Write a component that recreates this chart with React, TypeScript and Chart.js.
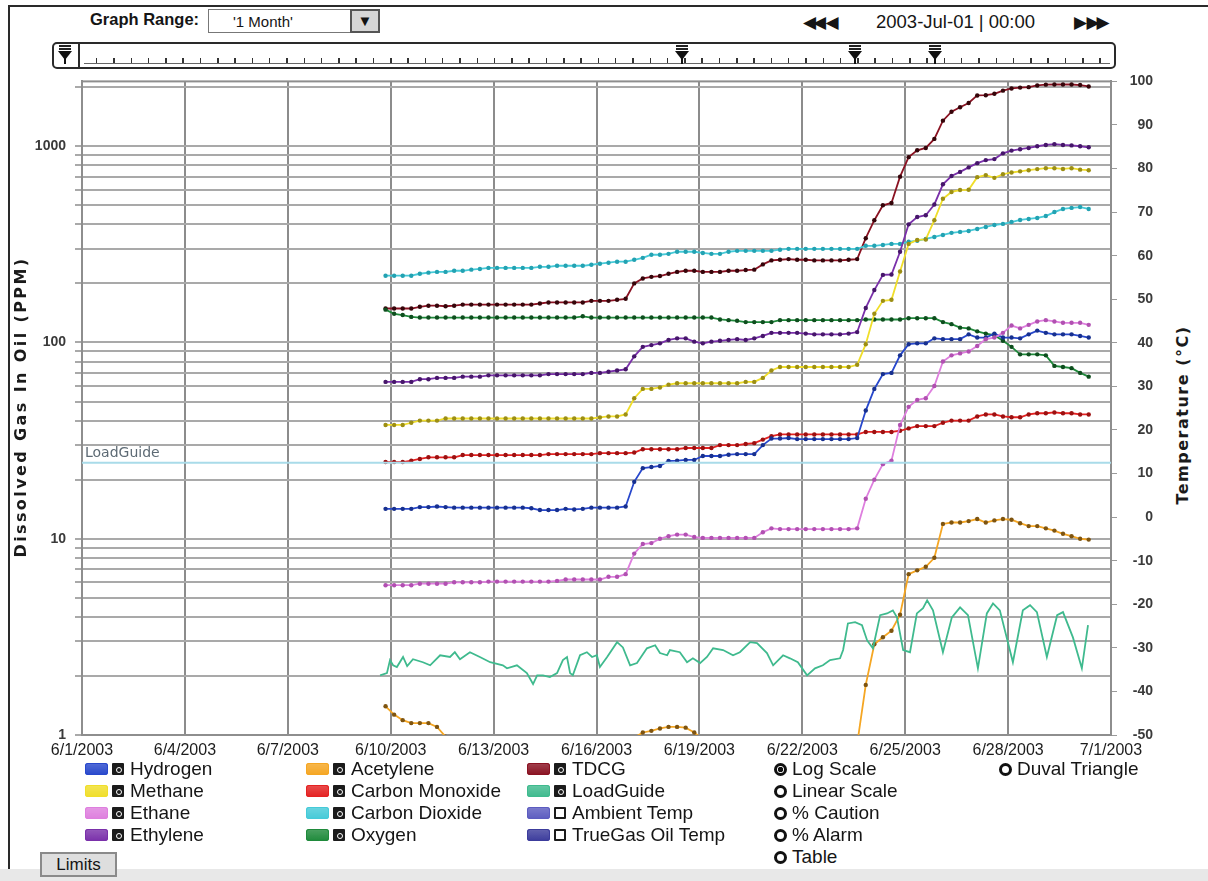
import React, { useEffect, useRef } from "react";
import { Chart, registerables } from "chart.js";

Chart.register(...registerables);

// ---- sampling of the monitor readings (days after 6/1/2003 00:00) ----
const SAMPLE_START_DAY = 8.85;
const SAMPLE_STEP_DAY = 0.25;

// ---- x axis ----
const xTickDays = [0, 3, 6, 9, 12, 15, 18, 21, 24, 27, 30];
const xTickLabels = ["6/1/2003", "6/4/2003", "6/7/2003", "6/10/2003", "6/13/2003", "6/16/2003", "6/19/2003", "6/22/2003", "6/25/2003", "6/28/2003", "7/1/2003"];

// ---- left (log) axis ----
const ppmMin = 1;
const ppmMax = 2140;
const ppmGridValues = [1, 2, 3, 4, 5, 6, 7, 8, 9, 10, 20, 30, 40, 50, 60, 70, 80, 90, 100, 200, 300, 400, 500, 600, 700, 800, 900, 1000, 2000];
const ppmLabelValues = [1, 10, 100, 1000];

// ---- right (temperature) axis ----
const tempMin = -50;
const tempMax = 100;
const tempStep = 10;
const loadGuideLimitTemp = 12.5;

// ---- gas series (ppm) ----
const hydrogen = [
  14.2, 14.2, 14.2, 14.2, 14.5, 14.5, 14.6, 14.5, 14.4, 14.4,
  14.4, 14.4, 14.4, 14.4, 14.4, 14.4, 14.4, 14.3, 14.0, 14.0,
  14.0, 14.2, 14.1, 14.2, 14.4, 14.4, 14.4, 14.4, 14.6, 19.5,
  22.9, 23.2, 23.5, 24.9, 25.0, 25.2, 25.2, 26.4, 26.4, 26.4,
  26.8, 27.0, 27.0, 27.0, 30.0, 32.4, 32.4, 32.6, 32.2, 32.2,
  32.2, 32.2, 32.2, 32.2, 32.2, 32.6, 45, 58, 69, 70,
  86, 98, 99, 99, 105, 104, 104, 104, 110, 106,
  106, 111, 106, 106, 105, 110, 115, 112, 110, 110,
  110, 108, 106,
];
const methane = [
  38, 38, 38, 39, 40, 40, 40, 41, 41, 41,
  41, 41, 41, 41, 41, 41, 41, 41, 41, 41,
  41, 41, 41, 41, 41, 41.5, 42, 42, 43, 52,
  58, 58, 59, 61, 62, 62, 62, 62, 62, 62,
  62, 62, 63, 63, 66, 72, 75, 75, 75, 75,
  75, 75, 75, 75, 75, 77, 98, 140, 163, 165,
  230, 318, 333, 335, 420, 540, 585, 598, 600, 696,
  713, 690, 720, 735, 745, 755, 765, 773, 773, 766,
  773, 760, 755,
];
const ethane = [
  5.8, 5.8, 5.8, 5.8, 5.9, 5.9, 5.9, 5.9, 6.0, 6.0,
  6.0, 6.0, 6.05, 6.05, 6.05, 6.05, 6.05, 6.05, 6.05, 6.05,
  6.1, 6.2, 6.2, 6.2, 6.2, 6.2, 6.4, 6.4, 6.6, 8.4,
  9.4, 9.5, 10.0, 10.3, 10.5, 10.5, 10.2, 10.1, 10.1, 10.1,
  10.1, 10.1, 10.1, 10.1, 10.8, 11.3, 11.2, 11.2, 11.2, 11.2,
  11.2, 11.2, 11.2, 11.2, 11.2, 11.3, 16, 20, 24, 25,
  38, 47, 51, 52, 60, 80, 86, 88, 90, 96,
  104, 106, 112, 122, 118, 123, 128, 130, 128, 126,
  126, 126, 123,
];
const ethylene = [
  63, 63, 63, 63, 65, 65, 66, 66, 66, 67,
  67, 67, 68, 68, 68, 68, 68, 68, 68, 69,
  69, 69, 69, 69, 70, 70, 71, 72, 73, 85,
  95, 97, 99, 103, 105, 105, 101, 99, 101, 102,
  103, 104, 103, 105, 108, 112, 112, 112, 112, 111,
  110, 110, 110, 110, 111, 113, 150, 185, 221, 222,
  290, 400, 436, 445, 505, 640, 705, 740, 780, 820,
  850, 860, 920, 950, 966, 980, 1000, 1015, 1025, 1015,
  1010, 1000, 988,
];
const acetylene = [
  1.40, 1.27, 1.19, 1.15, 1.15, 1.15, 1.10, 0.98, 0.85, 0.8,
  0.8, 0.8, 0.8, 0.8, 0.8, 0.8, 0.8, 0.8, 0.8, 0.8,
  0.8, 0.8, 0.8, 0.8, 0.8, 0.8, 0.8, 0.8, 0.85, 0.97,
  1.03, 1.05, 1.08, 1.10, 1.10, 1.09, 1.03, 0.95, 0.85, 0.8,
  0.8, 0.8, 0.8, 0.8, 0.8, 0.8, 0.8, 0.8, 0.8, 0.8,
  0.8, 0.8, 0.8, 0.8, 0.8, 0.9, 1.8, 2.9, 3.15, 3.4,
  4.1, 6.6, 6.9, 7.2, 8.0, 11.9, 12.1, 12.1, 12.3, 12.6,
  12.1, 12.4, 12.6, 12.5, 12.0, 11.6, 11.6, 11.3, 11.0, 10.6,
  10.3, 10.0, 9.9,
];
const carbonMonoxide = [
  24.6, 24.6, 24.6, 25.0, 25.5, 26.0, 26.0, 26.0, 26.0, 26.7,
  26.7, 26.7, 26.7, 26.7, 26.7, 26.7, 26.7, 26.7, 26.7, 27.0,
  27.0, 27.0, 27.0, 27.0, 27.0, 27.3, 27.3, 27.3, 27.3, 27.5,
  28.6, 28.6, 28.6, 28.6, 28.6, 29.0, 29.0, 29.0, 29.0, 30.0,
  30.0, 30.0, 30.4, 30.7, 32.0, 33.3, 34.0, 34.0, 34.0, 34.0,
  34.0, 34.0, 34.0, 34.0, 34.0, 34.0, 35.0, 35.0, 35.0, 35.0,
  35.5, 36.5, 37.5, 37.5, 37.5, 39.0, 40.0, 40.0, 40.0, 42.0,
  43.0, 43.0, 42.0, 41.6, 41.6, 43.0, 43.6, 43.6, 44.0, 43.6,
  43.6, 43.0, 43.0,
];
const carbonDioxide = [
  219, 219, 219, 219, 224, 227, 229, 229, 232, 232,
  235, 237, 240, 240, 240, 240, 240, 240, 243, 243,
  246, 246, 246, 246, 249, 252, 255, 258, 258, 264,
  270, 280, 280, 283, 290, 290, 290, 286, 283, 283,
  290, 293, 293, 293, 293, 293, 297, 300, 300, 300,
  300, 300, 300, 300, 300, 300, 311, 311, 314, 318,
  318, 326, 330, 337, 345, 353, 362, 366, 370, 379,
  388, 397, 402, 411, 421, 426, 431, 441, 462, 479,
  485, 490, 479,
];
const oxygen = [
  147, 140, 138, 135, 134, 134, 134, 134, 134, 134,
  134, 134, 134, 134, 134, 134, 134, 134, 134, 134,
  134, 134, 134, 136, 134, 134, 134, 134, 134, 134,
  134, 134, 134, 134, 134, 134, 134, 134, 134, 131,
  130, 129, 127, 127, 127, 127, 130, 130, 130, 130,
  130, 130, 130, 130, 130, 130, 131, 131, 131, 131,
  131, 133, 133, 133, 133, 127, 124, 119, 118, 114,
  111, 109, 102, 95, 87, 87, 87, 86, 76, 75,
  74, 70, 67,
];
const tdcg = [
  149, 149, 149, 149, 152, 154, 154, 153, 154, 156,
  156, 156, 156, 156, 156, 156, 156, 156, 158, 160,
  160, 160, 160, 160, 163, 163, 163, 165, 167, 200,
  212, 216, 218, 224, 229, 232, 232, 229, 229, 229,
  232, 232, 234, 235, 250, 262, 264, 266, 264, 264,
  262, 262, 262, 262, 264, 266, 340, 420, 500, 514,
  700, 880, 954, 980, 1090, 1350, 1500, 1580, 1660, 1815,
  1820, 1850, 1920, 1970, 1990, 2000, 2040, 2060, 2064, 2064,
  2064, 2050, 2017,
];

// ---- LoadGuide (temperature, degC) ----
const loadGuideDays = [
  8.69, 8.89, 8.98, 9.07, 9.18, 9.36, 9.48, 9.65, 9.94, 10.15,
  10.44, 10.73, 10.87, 11.02, 11.31, 11.60, 11.90, 12.27, 12.39, 12.68,
  12.97, 13.15, 13.27, 13.44, 13.64, 13.85, 14.02, 14.14, 14.23, 14.31,
  14.52, 14.72, 14.87, 15.01, 15.10, 15.31, 15.60, 15.77, 15.98, 16.18,
  16.47, 16.71, 16.85, 17.06, 17.14, 17.43, 17.64, 17.81, 18.02, 18.22,
  18.40, 18.69, 18.98, 19.18, 19.48, 19.68, 19.97, 20.15, 20.44, 20.64,
  20.87, 21.14, 21.37, 21.60, 21.81, 22.10, 22.19, 22.33, 22.54, 22.74,
  22.89, 23.06, 23.27, 23.47, 23.64, 23.76, 23.94, 24.14, 24.34, 24.52,
  24.64, 24.81, 25.10, 25.36, 25.60, 25.83, 26.12, 26.38, 26.56, 26.76,
  27.14, 27.43, 27.64, 27.84, 28.13, 28.43, 28.60, 28.89, 29.15, 29.33,
];
const loadGuideTemps = [
  -36.3, -35.8, -32.8, -34.0, -34.4, -32.1, -34.2, -32.6, -33.3, -34.0,
  -31.7, -32.1, -31.0, -32.6, -31.0, -32.1, -33.3, -34.0, -34.7, -34.0,
  -35.8, -38.3, -36.3, -36.3, -36.7, -35.8, -32.8, -32.1, -35.8, -36.3,
  -31.7, -31.0, -32.1, -31.7, -34.4, -32.1, -28.7, -29.9, -34.0, -33.5,
  -30.1, -29.4, -31.2, -31.7, -30.5, -31.0, -33.3, -32.4, -33.5, -32.1,
  -30.1, -30.5, -31.7, -31.0, -28.7, -28.9, -31.2, -34.0, -31.7, -32.4,
  -33.3, -36.3, -34.7, -34.0, -32.8, -32.4, -30.5, -24.4, -24.1, -24.8,
  -28.3, -30.1, -22.5, -22.1, -21.4, -23.0, -30.5, -31.0, -22.1, -20.9,
  -19.1, -21.4, -31.0, -23.0, -20.7, -22.5, -34.7, -22.1, -19.8, -21.4,
  -33.3, -21.4, -20.2, -21.8, -32.1, -22.5, -21.8, -27.6, -34.7, -24.8,
];

// ---- legend / controls text ----
const legendCol1 = ["Hydrogen", "Methane", "Ethane", "Ethylene"];
const legendCol2 = ["Acetylene", "Carbon Monoxide", "Carbon Dioxide", "Oxygen"];
const legendCol3 = ["TDCG", "LoadGuide", "Ambient Temp", "TrueGas Oil Temp"];
const uncheckedSeries = ["Ambient Temp", "TrueGas Oil Temp"];
const scaleOptions = ["Log Scale", "Linear Scale", "% Caution", "% Alarm", "Table"];
const selectedScaleOption = "Log Scale";
const extraOption = "Duval Triangle";
const graphRangeLabel = "Graph Range:";
const graphRangeValue = "'1 Month'";
const currentDateText = "2003-Jul-01 | 00:00";
const leftAxisTitle = "Dissolved Gas In Oil (PPM)";
const rightAxisTitle = "Temperature (\u00B0C)";
const limitsLabel = "Limits";

const SERIES_COLORS: Record<string, { line: string; point: string }> = {
  Hydrogen: { line: "#2848cc", point: "#17308f" },
  Methane: { line: "#f0de2a", point: "#9c8e14" },
  Ethane: { line: "#de7fde", point: "#b150b1" },
  Ethylene: { line: "#7a30aa", point: "#46166a" },
  Acetylene: { line: "#f5a623", point: "#7e5410" },
  "Carbon Monoxide": { line: "#e42222", point: "#9c1010" },
  "Carbon Dioxide": { line: "#45cad8", point: "#23a2b2" },
  Oxygen: { line: "#1f8a3b", point: "#0e4e1e" },
  TDCG: { line: "#8a1222", point: "#35050a" },
  LoadGuide: { line: "#3fba8e", point: "#3fba8e" },
  "Ambient Temp": { line: "#5c5cc0", point: "#5c5cc0" },
  "TrueGas Oil Temp": { line: "#3c3c9c", point: "#3c3c9c" },
};

function sampled(values: number[]) {
  return values.map((v, i) => ({ x: SAMPLE_START_DAY + i * SAMPLE_STEP_DAY, y: v }));
}

function gasDataset(label: string, values: number[]) {
  const c = SERIES_COLORS[label];
  return {
    label,
    data: sampled(values),
    yAxisID: "y",
    borderColor: c.line,
    backgroundColor: c.point,
    pointBackgroundColor: c.point,
    pointBorderWidth: 0,
    pointRadius: 2.2,
    borderWidth: 1.8,
    tension: 0,
  };
}

const plotFramePlugin = {
  id: "plotFrame",
  beforeDatasetsDraw(chart: any) {
    const { ctx, chartArea } = chart;
    ctx.save();
    ctx.strokeStyle = "#8e8e8e";
    ctx.lineWidth = 2;
    ctx.strokeRect(chartArea.left, chartArea.top, chartArea.right - chartArea.left, chartArea.bottom - chartArea.top);
    ctx.restore();
  },
};

const loadGuideLabelPlugin = {
  id: "loadGuideLabel",
  afterDatasetsDraw(chart: any) {
    const { ctx, chartArea, scales } = chart;
    const y = scales.y2.getPixelForValue(loadGuideLimitTemp);
    ctx.save();
    ctx.font = '14px "DejaVu Sans"';
    ctx.fillStyle = "#5d6a74";
    ctx.textBaseline = "alphabetic";
    ctx.fillText("LoadGuide", chartArea.left + 3, y - 6);
    ctx.restore();
  },
};

function DgaChart() {
  const ref = useRef<HTMLCanvasElement | null>(null);
  useEffect(() => {
    if (!ref.current) return;
    const tickFont = { family: "Liberation Sans", size: 14, weight: "bold" as const };
    const chart = new Chart(ref.current, {
      type: "line",
      data: {
        datasets: [
          {
            label: "LoadGuide limit",
            data: [
              { x: xTickDays[0], y: loadGuideLimitTemp },
              { x: xTickDays[xTickDays.length - 1], y: loadGuideLimitTemp },
            ],
            yAxisID: "y2",
            borderColor: "#a9dbe9",
            borderWidth: 2,
            pointRadius: 0,
          },
          {
            label: "LoadGuide",
            data: loadGuideDays.map((d, i) => ({ x: d, y: loadGuideTemps[i] })),
            yAxisID: "y2",
            borderColor: SERIES_COLORS.LoadGuide.line,
            borderWidth: 1.8,
            pointRadius: 0,
            tension: 0,
          },
          gasDataset("Acetylene", acetylene),
          gasDataset("Ethane", ethane),
          gasDataset("Hydrogen", hydrogen),
          gasDataset("Carbon Monoxide", carbonMonoxide),
          gasDataset("Methane", methane),
          gasDataset("Ethylene", ethylene),
          gasDataset("Oxygen", oxygen),
          gasDataset("Carbon Dioxide", carbonDioxide),
          gasDataset("TDCG", tdcg),
        ] as any,
      },
      options: {
        responsive: false,
        animation: false,
        devicePixelRatio: 1,
        layout: { padding: { top: 9, left: 0, right: 0, bottom: 0 } },
        plugins: { legend: { display: false }, tooltip: { enabled: false }, title: { display: false } },
        scales: {
          x: {
            type: "linear",
            min: xTickDays[0],
            max: xTickDays[xTickDays.length - 1],
            afterBuildTicks: (s: any) => {
              s.ticks = xTickDays.map((v) => ({ value: v }));
            },
            afterFit: (s: any) => {
              s.height = 35;
            },
            ticks: {
              autoSkip: false,
              maxRotation: 0,
              padding: 6,
              color: "#1c1c1c",
              font: { family: "Liberation Sans", size: 16 },
              callback: (v: any) => {
                const i = xTickDays.indexOf(Number(v));
                return i >= 0 ? xTickLabels[i] : "";
              },
            },
            grid: { color: "#8c8c8c", lineWidth: 2, drawTicks: false },
            border: { display: true, color: "#8c8c8c", width: 2 },
          },
          y: {
            type: "logarithmic",
            position: "left",
            min: ppmMin,
            max: ppmMax,
            afterBuildTicks: (s: any) => {
              s.ticks = ppmGridValues.map((v) => ({ value: v }));
            },
            afterFit: (s: any) => {
              s.width = 82;
            },
            ticks: {
              autoSkip: false,
              padding: 9,
              color: "#3a3a3a",
              font: tickFont,
              callback: (v: any) => (ppmLabelValues.includes(Number(v)) ? String(v) : ""),
            },
            grid: { color: "#a9a9a9", lineWidth: 2, tickLength: 7, drawTicks: true },
            border: { display: true, color: "#8c8c8c", width: 2 },
          },
          y2: {
            type: "linear",
            position: "right",
            min: tempMin,
            max: tempMax,
            afterFit: (s: any) => {
              s.width = 42;
            },
            ticks: {
              stepSize: tempStep,
              autoSkip: false,
              crossAlign: "far",
              padding: 8,
              color: "#3a3a3a",
              font: tickFont,
            },
            grid: { drawOnChartArea: false, tickLength: 6, color: "#9a9a9a", lineWidth: 1 },
            border: { display: true, color: "#8c8c8c", width: 2 },
          },
        },
      } as any,
      plugins: [plotFramePlugin, loadGuideLabelPlugin],
    });
    return () => chart.destroy();
  }, []);
  return (
    <canvas
      ref={ref}
      width={1153}
      height={706}
      style={{ position: "absolute", left: 0, top: 64, width: 1153, height: 706 }}
    />
  );
}

function Swatch({ color, left, top }: { color: string; left: number; top: number }) {
  return (
    <div
      style={{
        position: "absolute",
        left,
        top,
        width: 23,
        height: 12,
        borderRadius: 3,
        background: `linear-gradient(${color}cc, ${color})`,
        boxShadow: `inset 0 0 0 1px ${color}`,
      }}
    />
  );
}

function CheckBox({ checked, left, top }: { checked: boolean; left: number; top: number }) {
  return (
    <div
      style={{
        position: "absolute",
        left,
        top,
        width: 12,
        height: 12,
        boxSizing: "border-box",
        background: checked ? "#1b1b1b" : "#fff",
        border: "2px solid #1b1b1b",
        borderRadius: 1,
      }}
    >
      {checked && (
        <div
          style={{
            position: "absolute",
            left: 2,
            top: 2,
            width: 4,
            height: 4,
            border: "1px solid #fff",
            borderRadius: 3,
          }}
        />
      )}
    </div>
  );
}

function Radio({ selected, left, top }: { selected: boolean; left: number; top: number }) {
  return (
    <div
      style={{
        position: "absolute",
        left,
        top,
        width: 13,
        height: 13,
        boxSizing: "border-box",
        border: "3px solid #111",
        borderRadius: "50%",
        background: selected ? "radial-gradient(circle, #111 0 2.5px, #fff 3px)" : "#fff",
      }}
    />
  );
}

function SliderMarker({ left }: { left: number }) {
  return (
    <div style={{ position: "absolute", left: left - 7, top: 44, width: 14, height: 22 }}>
      <div style={{ position: "absolute", left: 1, top: 1, width: 12, height: 2, background: "#222" }} />
      <div style={{ position: "absolute", left: 1, top: 4, width: 12, height: 2, background: "#222" }} />
      <div
        style={{
          position: "absolute",
          left: 0,
          top: 7,
          width: 0,
          height: 0,
          borderLeft: "7px solid transparent",
          borderRight: "7px solid transparent",
          borderTop: "9px solid #111",
        }}
      />
      <div style={{ position: "absolute", left: 6, top: 14, width: 2, height: 6, background: "#111" }} />
    </div>
  );
}

const textFont = '"Liberation Sans", Arial, sans-serif';

export default function App() {
  const legendCols = [legendCol1, legendCol2, legendCol3];
  const colX = [85, 306, 527];
  const rowY = [769, 791, 813, 835, 857];
  return (
    <div
      style={{
        position: "absolute",
        left: 0,
        top: 0,
        width: 1208,
        height: 881,
        background: "#fff",
        overflow: "hidden",
        fontFamily: textFont,
        color: "#151515",
      }}
    >
      {/* outer frame */}
      <div style={{ position: "absolute", left: 8, top: 5, width: 1200, height: 2, background: "#2a2a2a" }} />
      <div style={{ position: "absolute", left: 8, top: 5, width: 2, height: 864, background: "#2a2a2a" }} />
      <div style={{ position: "absolute", left: 0, top: 869, width: 1208, height: 12, background: "#e8e8e8" }} />

      <DgaChart />

      {/* top controls */}
      <div style={{ position: "absolute", left: 90, top: 10, fontSize: 16.5, fontWeight: "bold", whiteSpace: "nowrap" }}>
        {graphRangeLabel}
      </div>
      <div
        style={{
          position: "absolute",
          left: 208,
          top: 9,
          width: 172,
          height: 24,
          boxSizing: "border-box",
          border: "1px solid #777",
          background: "#fff",
        }}
      >
        <div style={{ position: "absolute", left: 24, top: 3, fontSize: 15, whiteSpace: "nowrap" }}>{graphRangeValue}</div>
        <div
          style={{
            position: "absolute",
            right: -1,
            top: -1,
            width: 30,
            height: 24,
            boxSizing: "border-box",
            border: "2px solid #555",
            background: "#d6d6d6",
            fontSize: 15,
            lineHeight: "20px",
            textAlign: "center",
            color: "#111",
          }}
        >
          {"\u25BC"}
        </div>
      </div>
      <div style={{ position: "absolute", left: 803, top: 12, fontSize: 17, letterSpacing: -3, whiteSpace: "nowrap", fontFamily: "DejaVu Sans" }}>
        {"\u25C0\u25C0 \u25C0"}
      </div>
      <div style={{ position: "absolute", left: 876, top: 11, fontSize: 18.5, whiteSpace: "nowrap" }}>{currentDateText}</div>
      <div style={{ position: "absolute", left: 1074, top: 12, fontSize: 17, letterSpacing: -3, whiteSpace: "nowrap", fontFamily: "DejaVu Sans" }}>
        {"\u25B6 \u25B6\u25B6"}
      </div>

      {/* time slider */}
      <div
        style={{
          position: "absolute",
          left: 52,
          top: 42,
          width: 1064,
          height: 27,
          boxSizing: "border-box",
          border: "2px solid #2a2a2a",
          borderRadius: 5,
          background: "#fff",
        }}
      />
      <div style={{ position: "absolute", left: 78, top: 42, width: 2, height: 27, background: "#2a2a2a" }} />
      <div
        style={{
          position: "absolute",
          left: 96,
          top: 58,
          width: 1008,
          height: 6,
          background: "repeating-linear-gradient(to right, #333 0 1.5px, transparent 1.5px 17.3px)",
        }}
      />
      <div style={{ position: "absolute", left: 84, top: 63, width: 1026, height: 1, background: "#666" }} />
      <SliderMarker left={65} />
      <SliderMarker left={682} />
      <SliderMarker left={855} />
      <SliderMarker left={935} />

      {/* axis titles */}
      <div
        style={{
          position: "absolute",
          left: 21 - 260,
          top: 407 - 10,
          width: 520,
          height: 20,
          lineHeight: "20px",
          textAlign: "center",
          transform: "rotate(-90deg)",
          fontFamily: "DejaVu Sans",
          fontWeight: "bold",
          fontSize: 16,
          letterSpacing: 2.4,
          color: "#1a1a1a",
          whiteSpace: "nowrap",
        }}
      >
        {leftAxisTitle}
      </div>
      <div
        style={{
          position: "absolute",
          left: 1183 - 150,
          top: 415 - 10,
          width: 300,
          height: 20,
          lineHeight: "20px",
          textAlign: "center",
          transform: "rotate(-90deg)",
          fontFamily: "DejaVu Sans",
          fontWeight: "bold",
          fontSize: 16,
          letterSpacing: 1.5,
          color: "#1a1a1a",
          whiteSpace: "nowrap",
        }}
      >
        {rightAxisTitle}
      </div>

      {/* legend */}
      {legendCols.map((col, ci) =>
        col.map((label, ri) => (
          <React.Fragment key={label}>
            <Swatch color={SERIES_COLORS[label].line} left={colX[ci]} top={rowY[ri] - 6} />
            <CheckBox checked={!uncheckedSeries.includes(label)} left={colX[ci] + 27} top={rowY[ri] - 6} />
            <div
              style={{
                position: "absolute",
                left: colX[ci] + 45,
                top: rowY[ri] - 11,
                fontSize: 19,
                lineHeight: "22px",
                whiteSpace: "nowrap",
              }}
            >
              {label}
            </div>
          </React.Fragment>
        ))
      )}
      {scaleOptions.map((label, ri) => (
        <React.Fragment key={label}>
          <Radio selected={label === selectedScaleOption} left={774} top={rowY[ri] - 6} />
          <div
            style={{ position: "absolute", left: 792, top: rowY[ri] - 11, fontSize: 19, lineHeight: "22px", whiteSpace: "nowrap" }}
          >
            {label}
          </div>
        </React.Fragment>
      ))}
      <Radio selected={false} left={999} top={rowY[0] - 6} />
      <div style={{ position: "absolute", left: 1017, top: rowY[0] - 11, fontSize: 19, lineHeight: "22px", whiteSpace: "nowrap" }}>
        {extraOption}
      </div>

      <div
        style={{
          position: "absolute",
          left: 40,
          top: 852,
          width: 77,
          height: 25,
          boxSizing: "border-box",
          border: "2px solid #8a8a8a",
          background: "#dedede",
          fontSize: 17,
          lineHeight: "21px",
          textAlign: "center",
        }}
      >
        {limitsLabel}
      </div>
    </div>
  );
}
